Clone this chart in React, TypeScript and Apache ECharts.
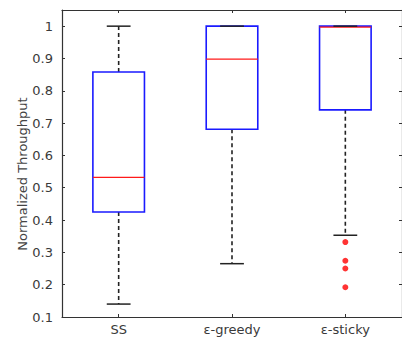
import React, { useEffect, useRef } from 'react';
import * as echarts from 'echarts';

const categories = ['SS', 'ε-greedy', 'ε-sticky'];
const lowerWhisker = [0.14, 0.265, 0.353];
const q1 = [0.425, 0.681, 0.741];
const median = [0.532, 0.898, 0.997];
const q3 = [0.858, 1.0, 1.0];
const upperWhisker = [1.0, 1.0, 1.0];
const outlierCategory = ['ε-sticky', 'ε-sticky', 'ε-sticky', 'ε-sticky'];
const outlierValues = [0.332, 0.274, 0.25, 0.192];
const yTicks = [0.1, 0.2, 0.3, 0.4, 0.5, 0.6, 0.7, 0.8, 0.9, 1];
const yAxisTitle = 'Normalized Throughput';

const FONT = 'DejaVu Sans';

export default function App() {
  const ref = useRef<HTMLDivElement>(null);
  useEffect(() => {
    if (!ref.current) return;
    const chart = echarts.init(ref.current, null, { renderer: 'svg' });
    const boxData = categories.map((c, i) => [i, lowerWhisker[i], q1[i], median[i], q3[i], upperWhisker[i]]);
    const fmt = (v: number) => {
      const r = Math.round(v * 10) / 10;
      if (Math.abs(r - v) > 1e-6) return '';
      if (!yTicks.some((t) => Math.abs(t - r) < 1e-6)) return '';
      return String(r);
    };
    const axisLine = { show: true, lineStyle: { color: '#333', width: 1.2 } };
    const tick = { show: true, inside: true, length: 3, lineStyle: { color: '#333' } };
    chart.setOption({
      animation: false,
      grid: { left: 62, right: -2, top: 10, bottom: 22, containLabel: false },
      graphic: [
        {
          type: 'text',
          x: 22,
          y: 174,
          rotation: Math.PI / 2,
          style: {
            text: yAxisTitle,
            fill: '#444',
            font: `13px "${FONT}"`,
            align: 'center',
            verticalAlign: 'middle',
          },
        },
      ],
      xAxis: [
        {
          type: 'category',
          data: categories,
          position: 'bottom',
          axisLine,
          axisTick: { ...tick, alignWithLabel: true },
          axisLabel: { color: '#3a3a3a', fontSize: 13, fontFamily: FONT, margin: 6 },
          splitLine: { show: false },
        },
        {
          type: 'category',
          data: categories,
          position: 'top',
          axisLine,
          axisTick: { ...tick, alignWithLabel: true },
          axisLabel: { show: false },
          splitLine: { show: false },
        },
      ],
      yAxis: [
        {
          type: 'value',
          min: 0.1,
          max: 1.05,
          interval: 0.1,
          position: 'left',
          axisLine,
          axisTick: tick,
          axisLabel: { color: '#3a3a3a', fontSize: 13, fontFamily: FONT, margin: 9, formatter: fmt, showMaxLabel: false },
          splitLine: { show: false },
        },
        {
          type: 'value',
          min: 0.1,
          max: 1.05,
          interval: 0.1,
          position: 'right',
          axisLine,
          axisTick: tick,
          axisLabel: { show: false },
          splitLine: { show: false },
        },
      ],
      series: [
        {
          type: 'custom',
          xAxisIndex: 0,
          yAxisIndex: 0,
          data: boxData,
          renderItem: (params: any, api: any) => {
            const x = api.value(0);
            const lo = api.coord([x, api.value(1)]);
            const b1 = api.coord([x, api.value(2)]);
            const md = api.coord([x, api.value(3)]);
            const b3 = api.coord([x, api.value(4)]);
            const hi = api.coord([x, api.value(5)]);
            const band = api.size([1, 0])[0];
            const bw = band * 0.455;
            const cw = band * 0.21;
            const cx = lo[0];
            const dash = { stroke: '#222', lineWidth: 1.6, lineDash: [4, 3] };
            return {
              type: 'group',
              children: [
                { type: 'line', shape: { x1: cx, y1: b3[1], x2: cx, y2: hi[1] }, style: dash },
                { type: 'line', shape: { x1: cx, y1: b1[1], x2: cx, y2: lo[1] }, style: dash },
                {
                  type: 'rect',
                  shape: { x: cx - bw / 2, y: b3[1], width: bw, height: b1[1] - b3[1] },
                  style: { fill: 'none', stroke: '#1a1aff', lineWidth: 1.6 },
                },
                { type: 'line', shape: { x1: cx - bw / 2, y1: md[1], x2: cx + bw / 2, y2: md[1] }, style: { stroke: '#ff1a1a', lineWidth: 1.3 } },
                { type: 'line', shape: { x1: cx - cw / 2, y1: hi[1], x2: cx + cw / 2, y2: hi[1] }, style: { stroke: '#222', lineWidth: 1.5 } },
                { type: 'line', shape: { x1: cx - cw / 2, y1: lo[1], x2: cx + cw / 2, y2: lo[1] }, style: { stroke: '#222', lineWidth: 1.5 } },
              ],
            };
          },
        },
        {
          type: 'scatter',
          xAxisIndex: 0,
          yAxisIndex: 0,
          symbol: 'circle',
          symbolSize: 6,
          itemStyle: { color: '#ff0000' },
          data: outlierCategory.map((c, i) => [c, outlierValues[i]]),
        },
      ],
    });
    return () => chart.dispose();
  }, []);
  return <div ref={ref} style={{ position: 'fixed', left: 0, top: 0, width: 402, height: 339, background: '#fff' }} />;
}
